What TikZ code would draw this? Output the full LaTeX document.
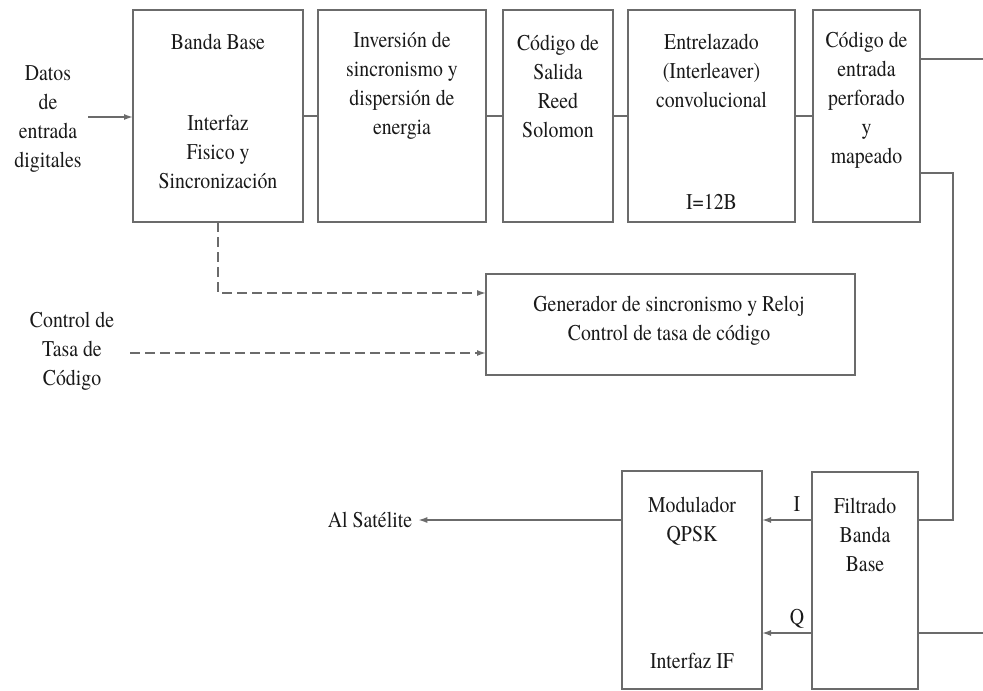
\documentclass[tikz,border=0pt]{standalone}
\usepackage{fontspec}
\newfontfamily\diagfont{texgyretermes}[Extension=.otf, UprightFont=*-regular, FakeStretch=0.88]
\usetikzlibrary{arrows.meta}
\definecolor{lineg}{gray}{0.42}
\definecolor{txt}{gray}{0.1}
\begin{document}
\begin{tikzpicture}[x=1pt,y=-1pt,
  blk/.style={draw=lineg, line width=1.5pt, inner sep=0pt, outer sep=0pt, fill=white},
  lbl/.style={inner sep=0pt, align=center, text=txt, font=\diagfont\fontsize{22.5}{29}\selectfont},
  wire/.style={draw=lineg, line width=1.5pt},
  tip/.style={-{Latex[length=9pt,width=6pt]}},
  dashline/.style={wire, dash pattern=on 10pt off 5pt}]
\useasboundingbox (0,0) rectangle (983,691);

% ---- upper chain of blocks ----
\node[blk, minimum width=170pt, minimum height=212pt] (bb)  at (218,116) {};
\node[blk, minimum width=168pt, minimum height=212pt] (inv) at (402,116) {};
\node[blk, minimum width=110pt, minimum height=212pt] (rs)  at (558,116) {};
\node[blk, minimum width=167pt, minimum height=212pt] (il)  at (711.5,116) {};
\node[blk, minimum width=107pt, minimum height=212pt] (pm)  at (866.5,116) {};

% ---- clock / rate control ----
\node[blk, minimum width=369pt, minimum height=101pt] (gen) at (670.5,324.5) {};

% ---- lower blocks ----
\node[blk, minimum width=140pt, minimum height=218pt] (qpsk) at (692,580) {};
\node[blk, minimum width=106pt, minimum height=217pt] (fb)   at (865,580.5) {};

% ---- texts ----
\node[lbl] (tdatos) at (48,119) {Datos\\de\\entrada\\digitales};
\node[lbl] (tbb1) at (218,42) {Banda Base};
\node[lbl] (tbb2) at (218,152) {Interfaz\\Fisico y\\Sincronización};
\node[lbl] (tinv) at (402,86) {Inversión de\\sincronismo y\\dispersión de\\energia};
\node[lbl] (trs)  at (558,86) {Código de\\Salida\\Reed\\Solomon};
\node[lbl] (til)  at (711.5,71) {Entrelazado\\(Interleaver)\\convolucional};
\node[lbl] (til2) at (711.5,202) {I=12B};
\node[lbl] (tpm)  at (866.5,100) {Código de\\entrada\\perforado\\y\\mapeado};
\node[lbl] (tgen) at (669,321) {Generador de sincronismo y Reloj\\Control de tasa de código};
\node[lbl] (tctl) at (72,351) {Control de\\Tasa de\\Código};
\node[lbl] (tq1)  at (692,521) {Modulador\\QPSK};
\node[lbl] (tq2)  at (692,661) {Interfaz IF};
\node[lbl] (tfb)  at (865,535) {Filtrado\\Banda\\Base};
\node[lbl, inner xsep=6pt] (sat) at (370,520) {Al Satélite};
\node[lbl] (li) at (797,504) {I};
\node[lbl] (lq) at (797,619) {Q};

% ---- helper coordinates ----
\coordinate (din)  at (88,117);
\coordinate (out1) at (983,59);
\coordinate (turn) at (953,173);
\coordinate (iy)   at (0,520);
\coordinate (qy)   at (0,633);
\coordinate (out2) at (983,633);
\coordinate (dy)   at (0,293);
\coordinate (rate) at (130,353);

% ---- connectors ----
\draw[wire,tip] (din) -- (din -| bb.west);
\draw[wire] (bb.east) -- (inv.west);
\draw[wire] (inv.east) -- (rs.west);
\draw[wire] (rs.east) -- (il.west);
\draw[wire] (il.east) -- (pm.west);
\draw[wire] (out1 -| pm.east) -- (out1);
\draw[wire] (turn -| pm.east) -- (turn) |- (iy -| fb.east);
\draw[wire,tip] (iy -| fb.west) -- (iy -| qpsk.east);
\draw[wire,tip] (qy -| fb.west) -- (qy -| qpsk.east);
\draw[wire] (qy -| fb.east) -- (out2);
\draw[wire,tip] (iy -| qpsk.west) -- (sat.east);
\draw[dashline,tip] (bb.south) |- (dy -| gen.west);
\draw[dashline,tip] (rate) -- (rate -| gen.west);
\end{tikzpicture}
\end{document}
